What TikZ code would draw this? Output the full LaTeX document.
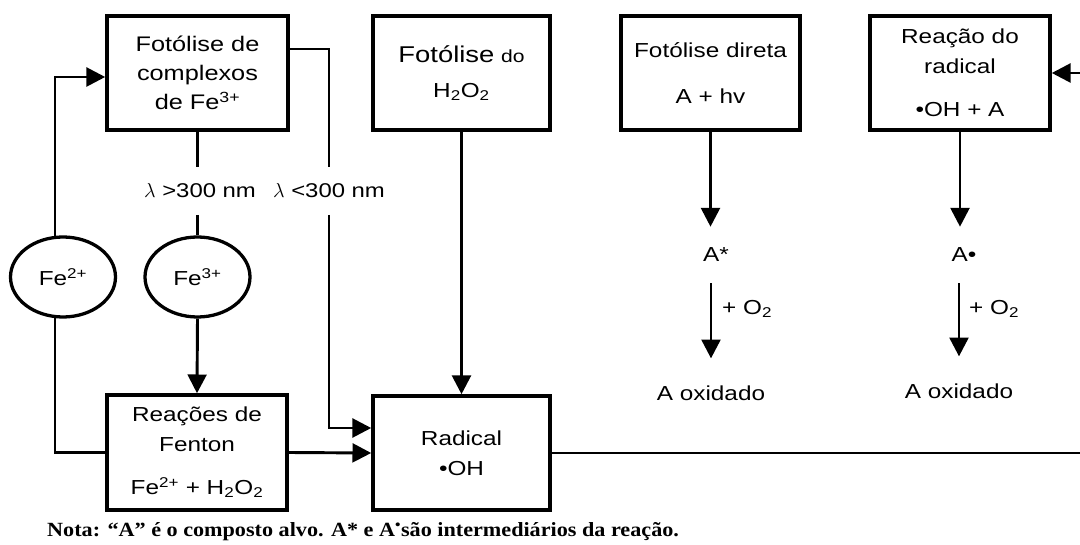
\documentclass[tikz,border=0pt]{standalone}
\usepackage{fontspec}
\setmainfont{Liberation Sans}[FakeStretch=1.2]
\newfontfamily\notefont{Liberation Serif}[FakeStretch=1.1]
\usetikzlibrary{arrows.meta,shapes.geometric}

\tikzset{
  caixa/.style={draw, line width=3pt, minimum width=5.4cm, minimum height=3.42cm,
    align=center, inner sep=0pt, font=\fontsize{17.3}{25.6}\selectfont},
  ferro/.style={draw, ellipse, line width=2.8pt, minimum width=3.15cm,
    minimum height=2.4cm, inner sep=0pt, font=\fontsize{17.3}{20}\selectfont},
  seta/.style={line width=2.5pt, -{Triangle[length=16pt,width=16pt]}},
  linha/.style={line width=2.5pt},
  especie/.style={inner xsep=0pt, inner ysep=18pt, font=\fontsize{17.3}{20}\selectfont},
  lambda/.style={inner xsep=0pt, inner ysep=14pt, font=\fontsize{17}{20}\selectfont},
  texto/.style={inner sep=0pt, font=\fontsize{17.3}{20}\selectfont}
}

\begin{document}
\begin{tikzpicture}[x=0.03cm,y=-0.03cm]
\useasboundingbox (0,0) rectangle (1080,545);

% caixas de cima
\node[caixa, minimum width=5.43cm, font=\fontsize{18}{24.7}\selectfont] (fotocomp) at (197.5,73)
  {Fotólise de\\complexos\\de Fe\textsuperscript{3+}};
\node[caixa, minimum width=5.31cm] (fotoh2o2) at (461.5,73)
  {{\fontsize{19.5}{25}\selectfont Fotólise} {\fontsize{15}{25}\selectfont do}\\[4pt]H\textsubscript{2}O\textsubscript{2}};
\node[caixa, minimum width=5.37cm] (fotodir) at (710.5,73) {Fotólise direta\\[13pt]A + hv};
\node[caixa] (reacrad) at (960,73) {Reação do\\radical\\[11pt]•OH + A};

% caixas de baixo
\node[caixa, minimum height=3.45cm] (fenton) at (197,452.5)
  {Reações de\\Fenton\\[11pt]Fe\textsuperscript{2+} + H\textsubscript{2}O\textsubscript{2}};
\node[caixa, minimum width=5.31cm] (radical) at (461.5,453) {Radical\\•OH};

% ions de ferro
\node[ferro] (fe2) at (63,277) {Fe\textsuperscript{2+}};
\node[ferro] (fe3) at (197.5,277) {Fe\textsuperscript{3+}};

% comprimentos de onda
\node[lambda] (lam1) at (200,191) {$\lambda$ >300 nm};
\node[lambda] (lam2) at (329,191) {$\lambda$ <300 nm};

% especies
\node[especie] (astar) at (716,255) {A*};
\node[especie] (arad) at (964,255) {A•};
\node[especie] (aox1) at (711,393) {A oxidado};
\node[especie] (aox2) at (959,391) {A oxidado};
\node[texto, anchor=west] (o2a) at (722,309) {+ O\textsubscript{2}};
\node[texto, anchor=west] (o2b) at (969,309) {+ O\textsubscript{2}};

% ligacoes
\draw[seta] (fe2.101) |- ([yshift=-0.12cm]fotocomp.west);
\draw[linha] (fe2.259) |- (fenton.west);
\draw[linha] (fotocomp.south) -- (fotocomp.south |- lam1.north);
\draw[linha] (fe3.north |- lam1.south) -- (fe3.north);
\draw[seta] (fe3.south) -- (fenton.north);
\draw[linha] ([yshift=0.72cm]fotocomp.east) -| (lam2.north);
\draw[seta] (lam2.south) |- ([yshift=0.75cm]radical.west);
\draw[seta] (fenton.east) -- (radical.west);
\draw[seta] (fotoh2o2.south) -- (radical.north);
\draw[seta] (fotodir.south) -- (fotodir.south |- astar.north);
\draw[seta] (reacrad.south) -- (reacrad.south |- arad.north);
\draw[seta, shorten >=5pt] (aox1.north |- astar.south) -- (aox1.north);
\draw[seta, shorten >=5pt] (aox2.north |- arad.south) -- (aox2.north);
\coordinate (borda) at (1084,453);
\draw[seta] (radical.east) -- (borda) |- (reacrad.east);

% nota
\node[anchor=west, inner sep=0pt, font=\notefont\bfseries\fontsize{17.2}{20}\selectfont] (nota) at (47,532)
  {Nota: “A” é o composto alvo. A* e A\textsuperscript{•}são intermediários da reação.};
\end{tikzpicture}
\end{document}
